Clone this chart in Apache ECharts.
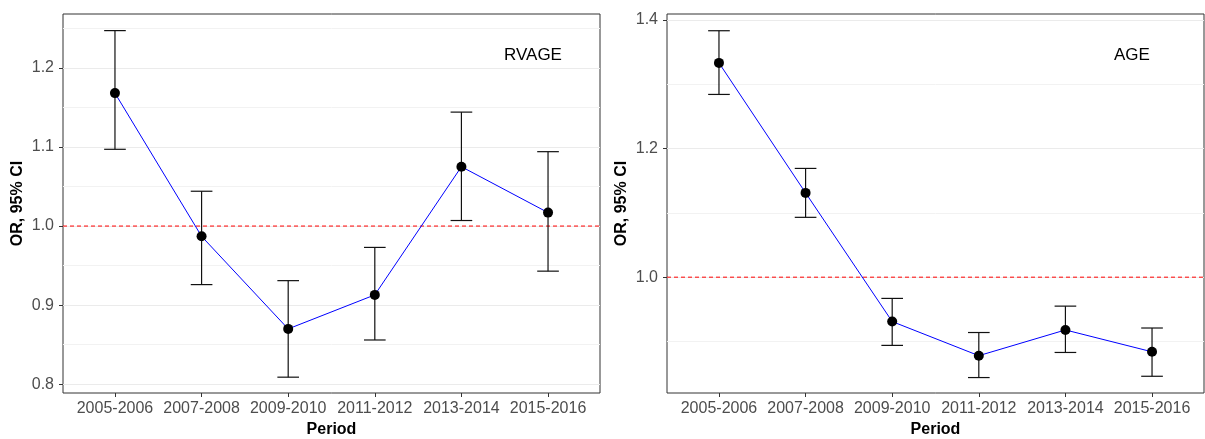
<!DOCTYPE html>
<html>
<head>
<meta charset="utf-8">
<script src="https://cdn.jsdelivr.net/npm/echarts@6/dist/echarts.min.js"></script>
<style>html,body{margin:0;padding:0;background:#fff;}#c{width:1205px;height:439px;}</style>
</head>
<body>
<div id="c"></div>
<script>
const categories = ['2005-2006','2007-2008','2009-2010','2011-2012','2013-2014','2015-2016'];
const rvageOR = [1.168, 0.987, 0.870, 0.913, 1.075, 1.017];
const rvageLo = [1.097, 0.926, 0.809, 0.856, 1.007, 0.943];
const rvageHi = [1.247, 1.044, 0.931, 0.973, 1.144, 1.094];
const ageOR = [1.333, 1.131, 0.931, 0.878, 0.918, 0.884];
const ageLo = [1.284, 1.093, 0.894, 0.844, 0.883, 0.846];
const ageHi = [1.383, 1.169, 0.967, 0.914, 0.955, 0.921];
const rvageTicks = [0.8, 0.9, 1.0, 1.1, 1.2];
const rvageMinor = [0.85, 0.95, 1.05, 1.15, 1.25];
const ageTicks = [1.0, 1.2, 1.4];
const ageMinor = [0.9, 1.1, 1.3];
const refValue = [1.0];
const xTicks = [0, 1, 2, 3, 4, 5];
const panelNames = ['RVAGE', 'AGE'];

const FONT = "'Liberation Sans', Arial, sans-serif";
const chart = echarts.init(document.getElementById('c'), null, {renderer: 'canvas'});

function errRender(params, api) {
  const x = api.value(0), lo = api.value(1), hi = api.value(2);
  const pLo = api.coord([x, lo]);
  const pHi = api.coord([x, hi]);
  const hw = api.size([0.25, 0])[0] / 2;
  const st = {stroke: '#111', lineWidth: 1.2};
  return {type: 'group', children: [
    {type: 'line', shape: {x1: pLo[0], y1: pHi[1], x2: pLo[0], y2: pLo[1]}, style: st},
    {type: 'line', shape: {x1: pLo[0] - hw, y1: pHi[1], x2: pLo[0] + hw, y2: pHi[1]}, style: st},
    {type: 'line', shape: {x1: pLo[0] - hw, y1: pLo[1], x2: pLo[0] + hw, y2: pLo[1]}, style: st}
  ]};
}

function xAxisFor(idx) {
  return {
    gridIndex: idx, type: 'value', min: -0.6, max: 5.6,
    name: 'Period', nameLocation: 'middle', nameGap: 28,
    nameTextStyle: {fontFamily: FONT, fontSize: 16, fontWeight: 'bold', color: '#000'},
    axisLine: {show: false, onZero: false},
    axisTick: {show: true, customValues: xTicks, length: 4, lineStyle: {color: '#333', width: 1}},
    axisLabel: {customValues: xTicks, formatter: v => categories[Math.round(v)], fontFamily: FONT, fontSize: 16, color: '#4d4d4d', margin: 8},
    splitLine: {show: false}
  };
}
function yAxisFor(idx, min, max, ticks) {
  return {
    gridIndex: idx, type: 'value', min: min, max: max,
    name: 'OR, 95% CI', nameLocation: 'middle', nameGap: 37, nameRotate: 90,
    nameTextStyle: {fontFamily: FONT, fontSize: 16, fontWeight: 'bold', color: '#000'},
    axisLine: {show: false, onZero: false},
    axisTick: {show: true, customValues: ticks, length: 4, lineStyle: {color: '#333', width: 1}},
    axisLabel: {customValues: ticks, formatter: v => v.toFixed(1), fontFamily: FONT, fontSize: 16, color: '#4d4d4d', margin: 9},
    splitLine: {show: true, lineStyle: {color: '#ebebeb', width: 1.2}}
  };
}
function minorAxisFor(idx, min, max, ticks) {
  return {
    gridIndex: idx, type: 'value', min: min, max: max,
    axisLine: {show: false, onZero: false},
    axisTick: {show: false, customValues: ticks},
    axisLabel: {show: false, customValues: ticks},
    splitLine: {show: true, lineStyle: {color: '#f2f2f2', width: 1}}
  };
}

function refLine(idx) {
  return {
    type: 'custom', xAxisIndex: idx, yAxisIndex: idx, z: 2, silent: true,
    data: refValue.map(v => [2, v]),
    renderItem: function (params, api) {
      const cs = params.coordSys;
      const y = api.coord([api.value(0), api.value(1)])[1];
      return {type: 'line', silent: true, shape: {x1: cs.x, y1: y, x2: cs.x + cs.width, y2: y},
        style: {stroke: '#ff0000', lineWidth: 1, lineDash: [4, 3], fill: 'none'}};
    }
  };
}

function panelSeries(idx, or, lo, hi) {
  return [
    refLine(idx),
    {
      type: 'custom', xAxisIndex: idx, yAxisIndex: idx, z: 3, silent: true,
      renderItem: errRender,
      data: categories.map((c, i) => [i, lo[i], hi[i]])
    },
    {
      type: 'line', xAxisIndex: idx, yAxisIndex: idx, z: 4, silent: true,
      data: categories.map((c, i) => [i, or[i]]),
      lineStyle: {color: '#0000ff', width: 1},
      itemStyle: {color: '#0000ff'},
      symbol: 'none'
    },
    {
      type: 'scatter', xAxisIndex: idx, yAxisIndex: idx, z: 6, silent: true,
      data: categories.map((c, i) => [i, or[i]]),
      symbol: 'circle', symbolSize: 10,
      itemStyle: {color: '#000', opacity: 1}
    }
  ];
}

const option = {
  backgroundColor: '#fff',
  animation: false,
  grid: [
    {left: 63, top: 14, width: 537, height: 379, outerBoundsMode: 'none', containLabel: false, show: true, borderColor: '#333', borderWidth: 1, backgroundColor: '#fff'},
    {left: 667, top: 14, width: 537, height: 379, outerBoundsMode: 'none', containLabel: false, show: true, borderColor: '#333', borderWidth: 1, backgroundColor: '#fff'}
  ],
  xAxis: [xAxisFor(0), xAxisFor(1)],
  yAxis: [
    yAxisFor(0, 0.789, 1.268, rvageTicks),
    yAxisFor(1, 0.820, 1.409, ageTicks),
    minorAxisFor(0, 0.789, 1.268, rvageMinor),
    minorAxisFor(1, 0.820, 1.409, ageMinor)
  ],
  graphic: [
    {type: 'text', left: 504, top: 47, silent: true, style: {text: panelNames[0], fontFamily: FONT, fontSize: 17, fill: '#000'}},
    {type: 'text', left: 1114, top: 47, silent: true, style: {text: panelNames[1], fontFamily: FONT, fontSize: 17, fill: '#000'}}
  ],
  series: [].concat(panelSeries(0, rvageOR, rvageLo, rvageHi), panelSeries(1, ageOR, ageLo, ageHi))
};
chart.setOption(option);
</script>
</body>
</html>
